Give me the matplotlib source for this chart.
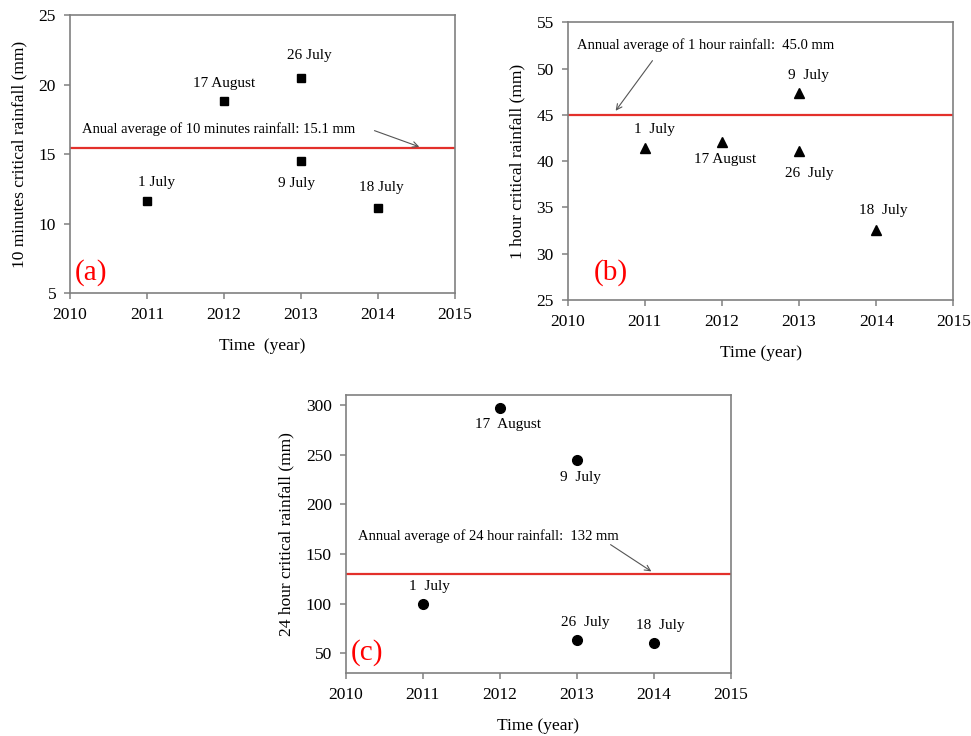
import matplotlib
matplotlib.use('Agg')
import matplotlib.pyplot as plt

plt.rcParams['font.family'] = ['Liberation Serif', 'DejaVu Serif']

years_a = [2011, 2012, 2013, 2013, 2014]
rain_a = [11.6, 18.8, 20.5, 14.5, 11.1]
labels_a = ['1 July', '17 August', '26 July', '9 July', '18 July']
avg_a = 15.45

years_b = [2011, 2012, 2013, 2013, 2014]
rain_b = [41.4, 42.1, 47.4, 41.1, 32.6]
labels_b = ['1  July', '17 August', '9  July', '26  July', '18  July']
avg_b = 45.0

years_c = [2011, 2012, 2013, 2013, 2014]
rain_c = [100, 297, 245, 63, 60]
labels_c = ['1  July', '17  August', '9  July', '26  July', '18  July']
avg_c = 130

# label offsets (points) relative to each marker
off_a = [(6.5, 13.5), (0, 13), (5.8, 16), (-3, -16), (2.2, 15)]
off_b = [(6.6, 13.5), (2.2, -13), (6.5, 12.5), (7.2, -16), (5, 14)]
off_c = [(5, 12.5), (6, -12), (3, -13), (6, 13), (4.5, 13)]

RED = '#e3302b'
SPINE = '#808080'

fig = plt.figure(figsize=(9.71, 7.36), dpi=100)
ax_a = fig.add_axes([0.0721, 0.6019, 0.3965, 0.3777])
ax_b = fig.add_axes([0.5847, 0.5924, 0.3971, 0.3773])
ax_c = fig.add_axes([0.3560, 0.0852, 0.3965, 0.3781])


def style(ax, ylim, yticks, ylabel, xlabel):
    ax.set_xlim(2010, 2015)
    ax.set_ylim(*ylim)
    ax.set_xticks(range(2010, 2016))
    ax.set_yticks(yticks)
    for s in ax.spines.values():
        s.set_color(SPINE)
        s.set_linewidth(1.2)
    ax.tick_params(direction='out', length=4, width=1.1, color=SPINE,
                   labelsize=12.5, pad=6)
    ax.set_ylabel(ylabel, fontsize=12.5, labelpad=8)
    ax.set_xlabel(xlabel, fontsize=12.5, labelpad=11)


def points(ax, xs, ys, labels, offs, marker, ms):
    ax.plot(xs, ys, linestyle='none', marker=marker, color='black', ms=ms)
    for x, y, t, o in zip(xs, ys, labels, offs):
        ax.annotate(t, (x, y), xytext=o, textcoords='offset points',
                    ha='center', va='center', fontsize=11)


# (a)
style(ax_a, (5, 25), [5, 10, 15, 20, 25],
      '10 minutes critical rainfall (mm)', 'Time  (year)')
ax_a.axhline(avg_a, color=RED, lw=1.6)
points(ax_a, years_a, rain_a, labels_a, off_a, 's', 5.8)
ax_a.text(0.031, 0.59, 'Anual average of 10 minutes rainfall: 15.1 mm',
          transform=ax_a.transAxes, fontsize=10.5, va='center')
ax_a.annotate('', xy=(2014.57, avg_a), xytext=(2013.92, 16.75),
              arrowprops=dict(arrowstyle='->', color='#555555', lw=0.8))
ax_a.text(0.012, 0.075, '(a)', transform=ax_a.transAxes, color='red',
          fontsize=21, va='center')

# (b)
style(ax_b, (25, 55), [25, 30, 35, 40, 45, 50, 55],
      '1 hour critical rainfall (mm)', 'Time (year)')
ax_b.axhline(avg_b, color=RED, lw=1.6)
points(ax_b, years_b, rain_b, labels_b, off_b, '^', 7)
ax_b.text(0.024, 0.918, 'Annual average of 1 hour rainfall:  45.0 mm',
          transform=ax_b.transAxes, fontsize=10.5, va='center')
ax_b.annotate('', xy=(2010.6, avg_b + 0.2), xytext=(2011.12, 51.1),
              arrowprops=dict(arrowstyle='->', color='#555555', lw=0.8))
ax_b.text(0.067, 0.1, '(b)', transform=ax_b.transAxes, color='red',
          fontsize=21, va='center')

# (c)
style(ax_c, (30, 310), [50, 100, 150, 200, 250, 300],
      '24 hour critical rainfall (mm)', 'Time (year)')
ax_c.axhline(avg_c, color=RED, lw=1.6)
points(ax_c, years_c, rain_c, labels_c, off_c, 'o', 7)
ax_c.text(0.032, 0.493, 'Annual average of 24 hour rainfall:  132 mm',
          transform=ax_c.transAxes, fontsize=10.5, va='center')
ax_c.annotate('', xy=(2014.0, avg_c + 1), xytext=(2013.41, 161),
              arrowprops=dict(arrowstyle='->', color='#555555', lw=0.8))
ax_c.text(0.012, 0.075, '(c)', transform=ax_c.transAxes, color='red',
          fontsize=21, va='center')

fig.savefig('out.png', dpi=100)
